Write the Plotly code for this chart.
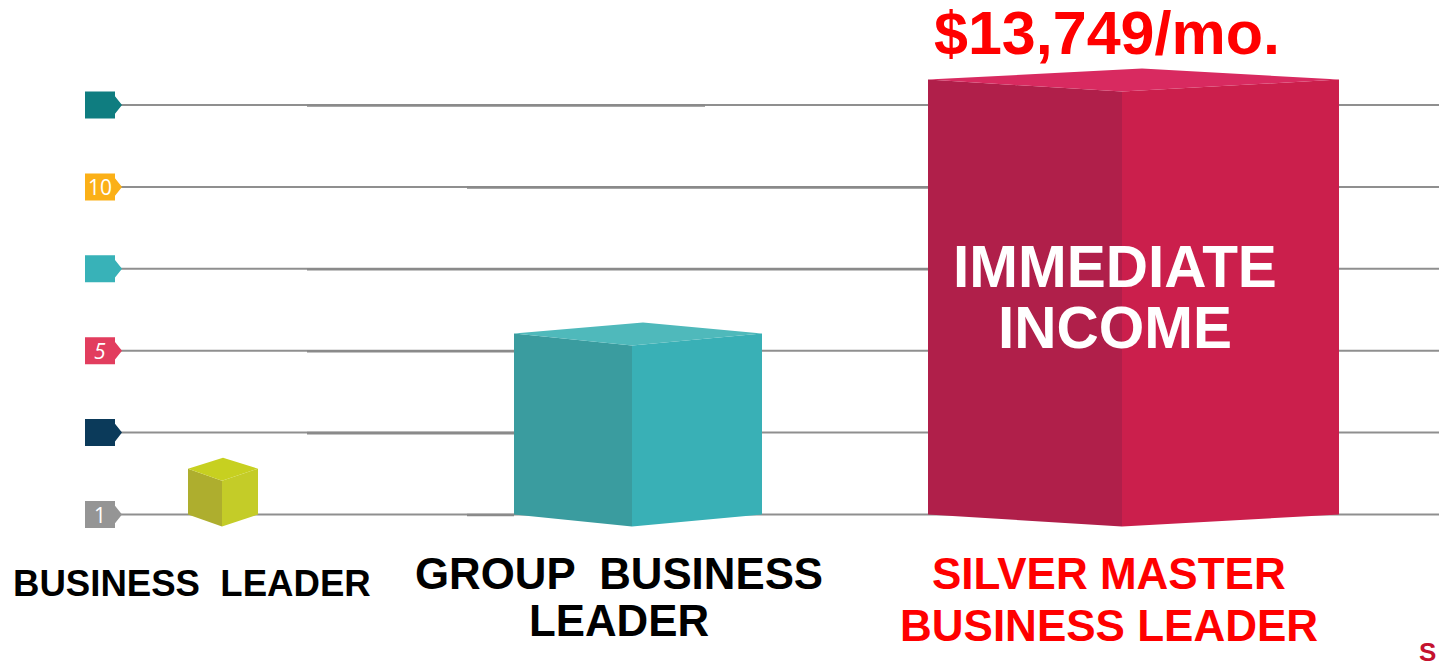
import plotly.graph_objects as go

# ---- data ----
tier_lines = [["BUSINESS  LEADER"], ["GROUP  BUSINESS", "LEADER"], ["SILVER MASTER", "BUSINESS LEADER"]]
tier_values = [0.56, 2.21, 5.31]
levels = [0, 1, 2, 3, 4, 5]
level_labels = ["1", "", "<i>5</i>", "", "10", ""]
headline = "$13,749/mo."
inner_lines = ["IMMEDIATE", "INCOME"]

# ---- styles / geometry ----
level_colors = ["#959595", "#0b3a5a", "#e23d5e", "#38b2b8", "#fbb017", "#0f7d80"]
face_colors = [
    ("#aeae2e", "#c4cc28", "#c7d020"),
    ("#3a9c9f", "#39b0b6", "#4fb9bb"),
    ("#b01f4a", "#cb1f4c", "#d82a60"),
]
bar_left = [188, 514, 928]
bar_front = [222, 632, 1122]
bar_back = [223, 643, 1142]
bar_right = [258, 762, 1339]
label_colors = ["#000000", "#000000", "#ff0000"]
label_x = [192, 619, 1109]
label_sizes = [36.6, 43.8, 44]
label_ys = [[583], [573, 620], [573, 625]]
UNIT = 81.9  # px per level
BASE_PX = 514.5
H = 670
W = 1439


def lv(px):
    return (BASE_PX - px) / UNIT


fig = go.Figure()

# gridlines
for lev in levels:
    fig.add_trace(go.Scatter(x=[120, W], y=[lev, lev], mode="lines",
                             line=dict(color="#8f8f8f", width=2),
                             hoverinfo="skip", showlegend=False))
# slightly thicker scan artefact segments of the reference
for lev, x0, x1 in [(5, 307, 705), (4, 467, 928), (3, 307, 928), (2, 307, 514), (1, 307, 514),
                    (0, 467, 514)]:
    fig.add_trace(go.Scatter(x=[x0, x1], y=[lev - 0.006, lev - 0.006], mode="lines",
                             line=dict(color="#8a8a8a", width=2.6),
                             hoverinfo="skip", showlegend=False))

# level badges
bx0, bx1, tip = 85, 115, 122
for lev, col, lab in zip(levels, level_colors, level_labels):
    h = 13.5 / UNIT
    fig.add_trace(go.Scatter(
        x=[bx0, bx1, bx1, tip, bx1, bx1, bx0, bx0],
        y=[lev + h, lev + h, lev + h * 0.65, lev, lev - h * 0.65, lev - h, lev - h, lev + h],
        mode="lines", fill="toself", fillcolor=col, line=dict(width=0),
        hoverinfo="skip", showlegend=False))
    if lab:
        fig.add_annotation(x=(bx0 + bx1) / 2, y=lev, text=lab, showarrow=False,
                           font=dict(family="Open Sans, sans-serif", size=21, color="#ffffff"))

# 3-D looking bars, built from the value
dip_top, rise_top, dip_bottom = 12 / UNIT, 11 / UNIT, 12 / UNIT
for v, (cl, cr, ct), l, f, b, r in zip(tier_values, face_colors, bar_left, bar_front, bar_back, bar_right):
    fig.add_trace(go.Scatter(x=[l, f, f, l, l], y=[v, v - dip_top, -dip_bottom, 0, v],
                             mode="lines", fill="toself", fillcolor=cl, line=dict(width=0),
                             hoverinfo="skip", showlegend=False))
    fig.add_trace(go.Scatter(x=[f, r, r, f, f], y=[v - dip_top, v, 0, -dip_bottom, v - dip_top],
                             mode="lines", fill="toself", fillcolor=cr, line=dict(width=0),
                             hoverinfo="skip", showlegend=False))
    fig.add_trace(go.Scatter(x=[l, b, r, f, l], y=[v, v + rise_top, v, v - dip_top, v],
                             mode="lines", fill="toself", fillcolor=ct, line=dict(width=0),
                             hoverinfo="skip", showlegend=False))

ARIAL = "Liberation Sans, Arial, sans-serif"

# category labels
for lines, x, c, s, ys in zip(tier_lines, label_x, label_colors, label_sizes, label_ys):
    for t, y in zip(lines, ys):
        fig.add_annotation(x=x, y=lv(y), text="<b>%s</b>" % t, showarrow=False,
                           font=dict(family=ARIAL, size=s, color=c))

# headline + inner label
fig.add_annotation(x=1107, y=lv(33), text="<b>%s</b>" % headline, showarrow=False,
                   font=dict(family=ARIAL, size=61, color="#ff0000"))
for t, y in zip(inner_lines, [266, 327]):
    fig.add_annotation(x=1114.5, y=lv(y), text="<b>%s</b>" % t, showarrow=False,
                       font=dict(family=ARIAL, size=58.5, color="#ffffff"))

# corner logo fragment
fig.add_annotation(x=1438, y=lv(652), text="<b>S</b>", showarrow=False, xanchor="right",
                   font=dict(family=ARIAL, size=26, color="#c4122f"))

fig.update_layout(
    width=W, height=H, margin=dict(l=0, r=0, t=0, b=0),
    paper_bgcolor="#ffffff", plot_bgcolor="#ffffff", showlegend=False,
    xaxis=dict(range=[0, W], visible=False, fixedrange=True),
    yaxis=dict(range=[lv(H), lv(0)], visible=False, fixedrange=True),
)
fig.write_html("out.html", config={"displayModeBar": False},
               post_script="document.body.style.margin='0';document.documentElement.style.overflow='hidden';")
